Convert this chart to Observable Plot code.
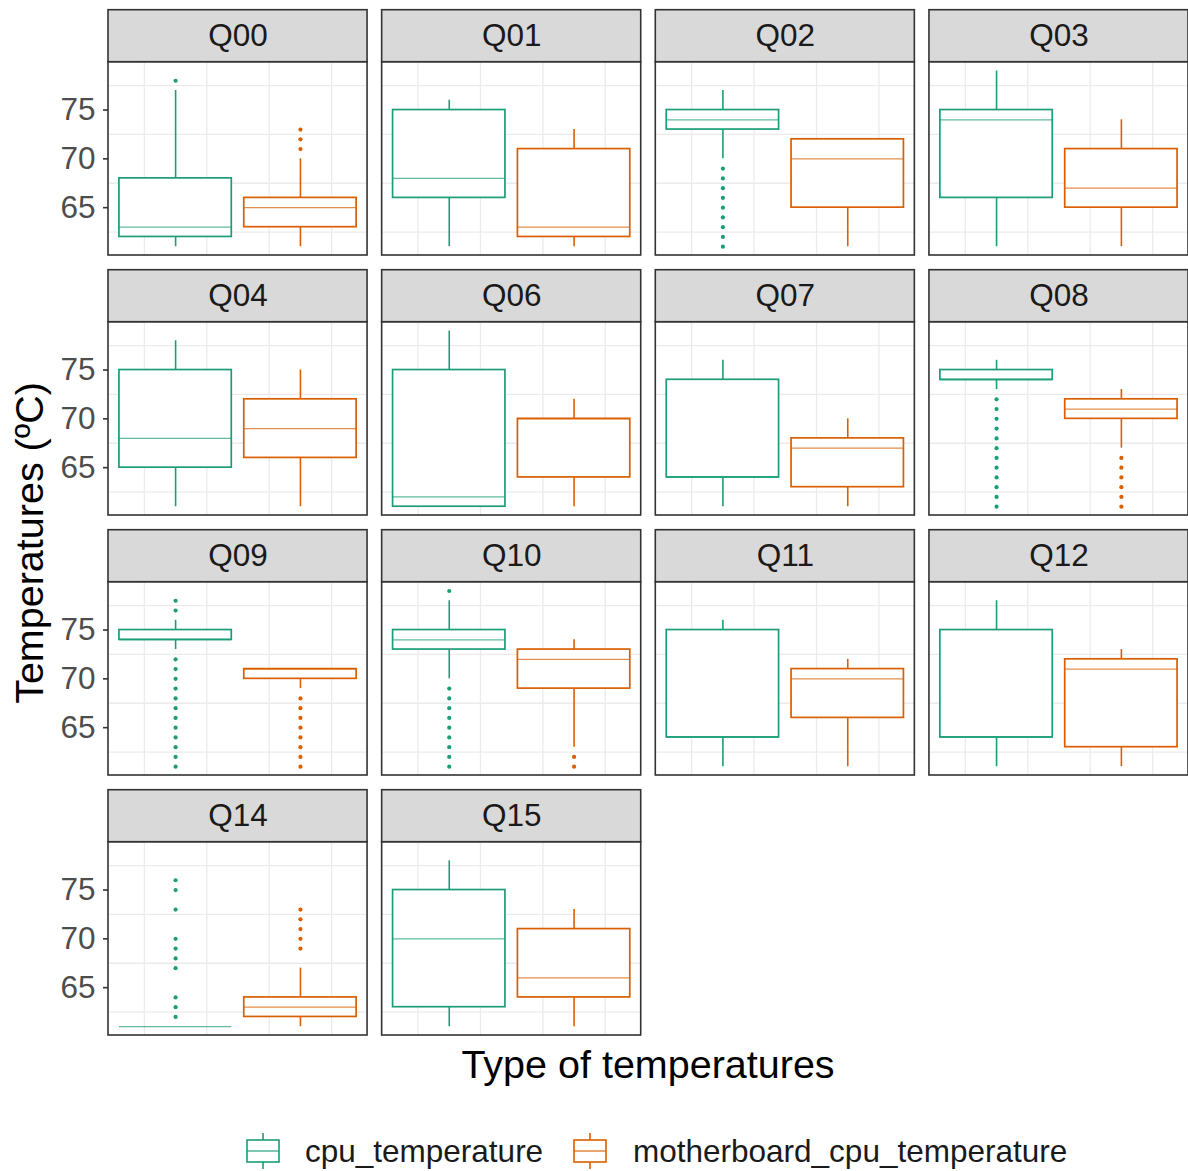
<!DOCTYPE html>
<html>
<head>
<meta charset="utf-8">
<script src="https://cdn.jsdelivr.net/npm/d3@7"></script>
<script src="https://cdn.jsdelivr.net/npm/@observablehq/plot@0.6"></script>
<style>
  body { margin: 0; background: #ffffff; }
  #chart svg { display: block; }
</style>
</head>
<body>
<div id="chart"></div>
<script>
// ---------------- data ----------------
const panels = ["Q00","Q01","Q02","Q03","Q04","Q06","Q07","Q08","Q09","Q10","Q11","Q12","Q14","Q15"];
const seriesNames = ["cpu_temperature", "motherboard_cpu_temperature"];
const seriesColors = ["#1B9E77", "#D95F02"];
const seriesX = [-1, 1];

// [lower whisker, Q1, median, Q3, upper whisker]
const cpuStats = [
  [61, 62, 63, 68, 77], // Q00
  [61, 66, 68, 75, 76], // Q01
  [70, 73, 74, 75, 77], // Q02
  [61, 66, 74, 75, 79], // Q03
  [61, 65, 68, 75, 78], // Q04
  [61, 61, 62, 75, 79], // Q06
  [61, 64, 64, 74, 76], // Q07
  [73, 74, 74, 75, 76], // Q08
  [73, 74, 74, 75, 76], // Q09
  [70, 73, 74, 75, 78], // Q10
  [61, 64, 64, 75, 76], // Q11
  [61, 64, 64, 75, 78], // Q12
  [61, 61, 61, 61, 61], // Q14
  [61, 63, 70, 75, 78]  // Q15
];
const mbStats = [
  [61, 63, 65, 66, 70], // Q00
  [61, 62, 63, 71, 73], // Q01
  [61, 65, 70, 72, 72], // Q02
  [61, 65, 67, 71, 74], // Q03
  [61, 66, 69, 72, 75], // Q04
  [61, 64, 70, 70, 72], // Q06
  [61, 63, 67, 68, 70], // Q07
  [67, 70, 71, 72, 73], // Q08
  [69, 70, 71, 71, 71], // Q09
  [63, 69, 72, 73, 74], // Q10
  [61, 66, 70, 71, 72], // Q11
  [61, 63, 71, 72, 73], // Q12
  [61, 62, 63, 64, 67], // Q14
  [61, 64, 66, 71, 73]  // Q15
];
const cpuOutliers = [
  [78],
  [],
  [61, 62, 63, 64, 65, 66, 67, 68, 69],
  [],
  [],
  [],
  [],
  [61, 62, 63, 64, 65, 66, 67, 68, 69, 70, 71, 72],
  [61, 62, 63, 64, 65, 66, 67, 68, 69, 70, 71, 72, 77, 78],
  [61, 62, 63, 64, 65, 66, 67, 68, 69, 79],
  [],
  [],
  [62, 63, 64, 67, 68, 69, 70, 73, 75, 76],
  []
];
const mbOutliers = [
  [71, 72, 73],
  [],
  [],
  [],
  [],
  [],
  [],
  [61, 62, 63, 64, 65, 66],
  [61, 62, 63, 64, 65, 66, 67, 68],
  [61, 62],
  [],
  [],
  [69, 70, 71, 72, 73],
  []
];
const yTicks = [65, 70, 75];
const yGrid = [62.5, 67.5, 72.5, 77.5];
const xGrid = [-1.5, -0.5, 0.5, 1.5];
const yDomain = [60.1, 79.9];
const xDomain = [-2.075, 2.075];

// ---------------- layout ----------------
const W = 1188, H = 1171;
const nCols = 4, nRows = 4;
const mL = 108, mR = 0, mT = 61.7, panelBottom = 1035;
const colGap = 14.6, rowGap = 66.7, stripH = 52;
const boxHalf = 0.9;
const fxRange = W - mR - mL, fyRange = panelBottom - mT;
const fxPad = colGap / ((fxRange + colGap) / nCols);
const fyPad = rowGap / ((fyRange + rowGap) / nRows);

// ---------------- tables ----------------
const panelRows = panels.map((name, i) => ({name, fx: i % nCols, fy: Math.floor(i / nCols)}));
const statSets = [cpuStats, mbStats];
const outSets = [cpuOutliers, mbOutliers];
const boxRows = panelRows.flatMap((p, i) => seriesNames.map((s, k) => {
  const [lo, q1, med, q3, hi] = statSets[k][i];
  return {...p, series: s, x: seriesX[k], lo, q1, med, q3, hi};
}));
const outRows = panelRows.flatMap((p, i) => seriesNames.flatMap((s, k) =>
  outSets[k][i].map(v => ({...p, series: s, x: seriesX[k], y: v}))));
const yGridRows = panelRows.flatMap(p => yGrid.map(v => ({...p, v})));
const xGridRows = panelRows.flatMap(p => xGrid.map(v => ({...p, v})));

const F = "'Liberation Sans', Arial, Helvetica, sans-serif";

const svg = Plot.plot({
  width: W,
  height: H,
  marginLeft: mL,
  marginRight: mR,
  marginTop: mT,
  marginBottom: H - panelBottom,
  style: {fontFamily: F, background: "#ffffff"},
  fx: {domain: d3.range(nCols), paddingInner: fxPad, paddingOuter: 0, round: false, axis: null, label: null},
  fy: {domain: d3.range(nRows), paddingInner: fyPad, paddingOuter: 0, round: false, axis: null, label: null},
  x: {domain: xDomain, axis: null},
  y: {domain: yDomain},
  color: {domain: seriesNames, range: seriesColors},
  marks: [
    Plot.ruleY(yGridRows, {fx: "fx", fy: "fy", y: "v", stroke: "#ebebeb", strokeWidth: 1.3}),
    Plot.ruleX(xGridRows, {fx: "fx", fy: "fy", x: "v", stroke: "#ebebeb", strokeWidth: 1.3}),
    Plot.ruleX(boxRows, {fx: "fx", fy: "fy", x: "x", y1: "q3", y2: "hi", stroke: "series", strokeWidth: 1.6}),
    Plot.ruleX(boxRows, {fx: "fx", fy: "fy", x: "x", y1: "lo", y2: "q1", stroke: "series", strokeWidth: 1.6}),
    Plot.rect(boxRows, {fx: "fx", fy: "fy", x1: d => d.x - boxHalf, x2: d => d.x + boxHalf, y1: "q1", y2: "q3",
      fill: "white", stroke: "series", strokeWidth: 1.7}),
    Plot.ruleY(boxRows, {fx: "fx", fy: "fy", y: "med", x1: d => d.x - boxHalf, x2: d => d.x + boxHalf,
      stroke: "series", strokeWidth: 1.2, strokeOpacity: 0.7}),
    Plot.dot(outRows, {fx: "fx", fy: "fy", x: "x", y: "y", fill: "series", r: 2.1, stroke: "none"}),
    Plot.rect(panelRows, {fx: "fx", fy: "fy", fill: "none", stroke: "#333333", strokeWidth: 1.6}),
    Plot.rect(panelRows, {fx: "fx", fy: "fy", y1: () => yDomain[1], y2: () => yDomain[1], insetTop: -stripH,
      fill: "#d9d9d9", stroke: "#333333", strokeWidth: 1.6}),
    Plot.text(panelRows, {fx: "fx", fy: "fy", text: "name", frameAnchor: "top", lineAnchor: "middle",
      dy: -stripH / 2, fontSize: 31.5, fill: "#1a1a1a"}),
    Plot.axisY({ticks: yTicks, tickSize: 5, tickPadding: 8, fontSize: 31.5, label: null,
      stroke: "#333333", fill: "#4d4d4d", strokeWidth: 1.6})
  ]
});

// ---------------- titles & legend ----------------
const s = d3.select(svg);
s.append("text")
  .attr("x", (mL + W - mR) / 2).attr("y", 1078)
  .attr("text-anchor", "middle")
  .attr("font-family", F).attr("font-size", 39.5).attr("fill", "#000")
  .text("Type of temperatures");
s.append("text")
  .attr("transform", `translate(43,543) rotate(-90)`)
  .attr("text-anchor", "middle")
  .attr("font-family", F).attr("font-size", 39.5).attr("fill", "#000")
  .text("Temperatures (ºC)");

const legendItems = [
  {label: seriesNames[0], color: seriesColors[0], x: 247, tx: 305},
  {label: seriesNames[1], color: seriesColors[1], x: 574, tx: 633}
];
const lg = s.append("g");
legendItems.forEach(it => {
  const g = lg.append("g").attr("fill", "none").attr("stroke", it.color).attr("stroke-width", 1.6);
  const cx = it.x + 16;
  g.append("line").attr("x1", cx).attr("x2", cx).attr("y1", 1133).attr("y2", 1140);
  g.append("line").attr("x1", cx).attr("x2", cx).attr("y1", 1162).attr("y2", 1169);
  g.append("rect").attr("x", it.x).attr("y", 1140).attr("width", 32).attr("height", 22).attr("fill", "white");
  g.append("line").attr("x1", it.x).attr("x2", it.x + 32).attr("y1", 1151).attr("y2", 1151).attr("stroke-opacity", 0.7);
  lg.append("text").attr("x", it.tx).attr("y", 1162)
    .attr("text-anchor", "start")
    .attr("font-family", F).attr("font-size", 31.5).attr("fill", "#1a1a1a")
    .text(it.label);
});

document.getElementById("chart").appendChild(svg);
</script>
</body>
</html>
